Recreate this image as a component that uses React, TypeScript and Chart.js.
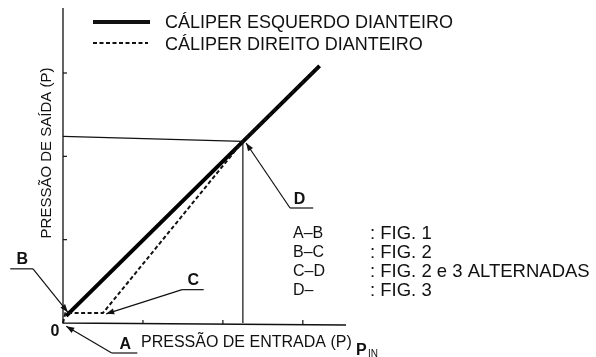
import { useEffect, useRef } from "react";
import { Chart, registerables } from "chart.js";

Chart.register(...registerables);

// ---- data (chart units) ----
const leftCaliper = [
  { x: 0.04, y: 0.085 },
  { x: 3.21, y: 3.085 },
];
const rightCaliper = [
  { x: 0, y: 0 },
  { x: 0.03, y: 0.12 },
  { x: 0.5, y: 0.12 },
  { x: 2.25, y: 2.18 },
  { x: 3.21, y: 3.085 },
];
const guideHorizontal = [
  { x: 0, y: 2.24 },
  { x: 2.25, y: 2.18 },
];
const guideVertical = [
  { x: 2.25, y: 2.18 },
  { x: 2.25, y: 0 },
];
const xTicks = [1, 2, 3];
const yTicks = [1, 2, 3];

// callouts: label, label position, underline start/end, arrow tip (chart units)
const calloutLabels = ["B", "C", "A", "D"];
const calloutLabelPos = [
  { x: -0.51, y: 0.76 },
  { x: 1.63, y: 0.51 },
  { x: 0.78, y: -0.26 },
  { x: 2.96, y: 1.48 },
];
const calloutUnderline = [
  [{ x: -0.66, y: 0.65 }, { x: -0.375, y: 0.65 }],
  [{ x: 1.76, y: 0.4 }, { x: 1.49, y: 0.4 }],
  [{ x: 0.93, y: -0.36 }, { x: 0.61, y: -0.36 }],
  [{ x: 3.13, y: 1.38 }, { x: 2.84, y: 1.38 }],
];
const calloutTip = [
  { x: 0.06, y: 0.13 },
  { x: 0.54, y: 0.11 },
  { x: 0.04, y: -0.04 },
  { x: 2.29, y: 2.16 },
];

const legendLabels = ["CÁLIPER ESQUERDO DIANTEIRO", "CÁLIPER DIREITO DIANTEIRO"];
const tableKeys = ["A–B", "B–C", "C–D", "D–"];
const tableValues = [": FIG. 1", ": FIG. 2", ": FIG. 2 e 3 ALTERNADAS", ": FIG. 3"];
const yTitle = "PRESSÃO DE SAÍDA (P)";
const xTitle = "PRESSÃO DE ENTRADA (P)";

const FONT = "'Liberation Sans', Arial, Helvetica, sans-serif";

function arrow(ctx: CanvasRenderingContext2D, x1: number, y1: number, x2: number, y2: number) {
  ctx.beginPath();
  ctx.moveTo(x1, y1);
  ctx.lineTo(x2, y2);
  ctx.stroke();
  const a = Math.atan2(y2 - y1, x2 - x1);
  const L = 8, W = 3;
  ctx.beginPath();
  ctx.moveTo(x2, y2);
  ctx.lineTo(x2 - L * Math.cos(a) + W * Math.sin(a), y2 - L * Math.sin(a) - W * Math.cos(a));
  ctx.lineTo(x2 - L * Math.cos(a) - W * Math.sin(a), y2 - L * Math.sin(a) + W * Math.cos(a));
  ctx.closePath();
  ctx.fill();
}

const decorPlugin = {
  id: "decor",
  beforeDatasetsDraw(chart: any) {
    const { ctx, scales } = chart;
    const xs = scales.x, ys = scales.y;
    const x0 = xs.getPixelForValue(0), y0 = ys.getPixelForValue(0);
    ctx.save();
    ctx.strokeStyle = "#111";
    ctx.lineWidth = 1.3;
    ctx.beginPath();
    ctx.moveTo(x0, ys.getPixelForValue(ys.max));
    ctx.lineTo(x0, y0);
    ctx.lineTo(xs.getPixelForValue(xs.max), y0 + 2);
    ctx.stroke();
    ctx.lineWidth = 1.2;
    yTicks.forEach((t) => {
      const py = ys.getPixelForValue(t);
      ctx.beginPath();
      ctx.moveTo(x0, py);
      ctx.lineTo(x0 + 4, py);
      ctx.stroke();
    });
    xTicks.forEach((t) => {
      const px = xs.getPixelForValue(t);
      ctx.beginPath();
      ctx.moveTo(px, y0 + 1);
      ctx.lineTo(px, y0 - 3);
      ctx.stroke();
    });
    ctx.restore();
  },
  afterDatasetsDraw(chart: any) {
    const { ctx, scales } = chart;
    const xs = scales.x, ys = scales.y;
    const P = (p: { x: number; y: number }) => [xs.getPixelForValue(p.x), ys.getPixelForValue(p.y)];
    ctx.save();
    ctx.fillStyle = "#111";
    ctx.strokeStyle = "#111";

    // callouts
    ctx.lineWidth = 1.2;
    calloutLabels.forEach((lab, i) => {
      const [ux1, uy1] = P(calloutUnderline[i][0]);
      const [ux2, uy2] = P(calloutUnderline[i][1]);
      const [tx, ty] = P(calloutTip[i]);
      ctx.beginPath();
      ctx.moveTo(ux1, uy1);
      ctx.lineTo(ux2, uy2);
      ctx.stroke();
      arrow(ctx, ux2, uy2, tx, ty);
      const [lx, ly] = P(calloutLabelPos[i]);
      ctx.font = `bold 16px ${FONT}`;
      ctx.textAlign = "center";
      ctx.textBaseline = "middle";
      ctx.fillText(lab, lx, ly);
    });

    // legend
    ctx.lineWidth = 4;
    ctx.beginPath();
    ctx.moveTo(93, 22);
    ctx.lineTo(150, 22);
    ctx.stroke();
    ctx.lineWidth = 2;
    ctx.setLineDash([4, 2.5]);
    ctx.beginPath();
    ctx.moveTo(93, 43);
    ctx.lineTo(148, 43);
    ctx.stroke();
    ctx.setLineDash([]);
    ctx.font = `18px ${FONT}`;
    ctx.textAlign = "left";
    ctx.textBaseline = "middle";
    ctx.fillText(legendLabels[0], 165, 23);
    ctx.fillText(legendLabels[1], 165, 45);

    // table
    tableKeys.forEach((k, i) => {
      const y = 234 + i * 19;
      ctx.font = `16px ${FONT}`;
      ctx.fillText(k, 293, y);
      ctx.font = `18.5px ${FONT}`;
      ctx.fillText(tableValues[i], 370, y);
    });

    // axis titles
    ctx.font = `16px ${FONT}`;
    ctx.fillText(xTitle, 141, 343);
    ctx.font = `bold 16px ${FONT}`;
    ctx.fillText("P", 356, 351);
    ctx.font = `10px ${FONT}`;
    ctx.fillText("IN", 368, 354);
    ctx.font = `bold 16px ${FONT}`;
    ctx.textAlign = "center";
    ctx.fillText("0", 55, 332);

    ctx.save();
    ctx.translate(47, 153);
    ctx.rotate(-Math.PI / 2);
    ctx.font = `15px ${FONT}`;
    ctx.textAlign = "center";
    ctx.textBaseline = "middle";
    ctx.fillText(yTitle, 0, 0);
    ctx.restore();

    ctx.restore();
  },
};

export default function App() {
  const ref = useRef<HTMLCanvasElement>(null);
  useEffect(() => {
    if (!ref.current) return;
    const chart = new Chart(ref.current, {
      type: "scatter",
      data: {
        datasets: [
          {
            data: guideHorizontal,
            showLine: true,
            borderColor: "#111",
            borderWidth: 1.2,
            pointRadius: 0,
          },
          {
            data: guideVertical,
            showLine: true,
            borderColor: "#111",
            borderWidth: 1.2,
            pointRadius: 0,
          },
          {
            data: rightCaliper,
            showLine: true,
            borderColor: "#111",
            borderWidth: 2,
            borderDash: [4, 2.5],
            pointRadius: 0,
          },
          {
            data: leftCaliper,
            showLine: true,
            borderColor: "#000",
            borderWidth: 4,
            pointRadius: 0,
          },
        ],
      },
      options: {
        responsive: false,
        animation: false,
        clip: false as any,
        layout: { padding: { left: 63, right: 250, top: 8, bottom: 34 } },
        plugins: { legend: { display: false }, tooltip: { enabled: false } },
        scales: {
          x: { type: "linear", min: 0, max: 3.54, display: false },
          y: { type: "linear", min: 0, max: 3.78, display: false },
        },
      },
      plugins: [decorPlugin],
    });
    return () => chart.destroy();
  }, []);
  return (
    <div style={{ position: "absolute", left: 0, top: 0, width: 596, height: 357, background: "#fff" }}>
      <canvas ref={ref} width={596} height={357} style={{ width: 596, height: 357, display: "block" }} />
    </div>
  );
}
